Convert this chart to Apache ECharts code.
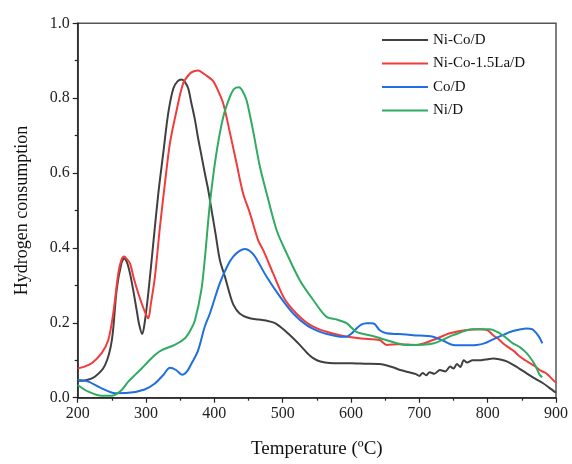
<!DOCTYPE html>
<html>
<head>
<meta charset="utf-8">
<script src="https://cdn.jsdelivr.net/npm/echarts@6/dist/echarts.min.js"></script>
<style>html,body{margin:0;padding:0;background:#fff;}#c{width:572px;height:464px;}</style>
</head>
<body>
<div id="c"></div>
<script>
const seriesNames = ['Ni-Co/D', 'Ni-Co-1.5La/D', 'Co/D', 'Ni/D'];
const xTicks = [200, 300, 400, 500, 600, 700, 800, 900];
const yTicks = [0.0, 0.2, 0.4, 0.6, 0.8, 1.0];

const niCoT = [200,210,225,240,250,257,264,268,272,276.5,281,286.3,290,294.5,298,303.3,310.6,318,325.2,332.5,339.9,346,352,357,361.8,366,371.6,376,381.4,386,391,396,402,408,416,422,428,437,452,465,476,488,496,510,525,540,550,562,575,600,620,642,660,672,685,695,700,705,710,715,722,730,738,745,750,755,760,765,770,778,790,800,808,818,828,840,857,870,880,890,900];
const niCoY = [0.045,0.046,0.056,0.087,0.154,0.288,0.359,0.372,0.362,0.332,0.29,0.234,0.195,0.17,0.2,0.279,0.412,0.546,0.653,0.76,0.826,0.845,0.85,0.843,0.826,0.79,0.742,0.695,0.644,0.60,0.555,0.50,0.435,0.368,0.32,0.28,0.248,0.225,0.212,0.209,0.206,0.2,0.19,0.168,0.141,0.112,0.1,0.094,0.092,0.092,0.091,0.09,0.082,0.074,0.068,0.063,0.058,0.066,0.06,0.068,0.064,0.074,0.07,0.083,0.078,0.09,0.082,0.1,0.094,0.1,0.1,0.103,0.105,0.102,0.097,0.085,0.065,0.05,0.04,0.027,0.013];

const niCoLaT = [200,210,220.5,235,244.8,252,259.4,264,268,272,276.5,282,288.6,295,300,303.3,307,313,320.4,327.7,335,344.8,354.5,364.3,370,376.5,384,391,398,405,413,423,432,442,452,464,471.5,486,500.8,510,520,532,544.6,564,588.6,615,642,652,670,696,720,744.6,769,788.5,800,808,815,822.6,830,838,847,855,862,869,876,885,890,895.8,900];
const niCoLaY = [0.078,0.083,0.092,0.119,0.154,0.225,0.332,0.368,0.377,0.37,0.359,0.32,0.279,0.245,0.222,0.212,0.25,0.323,0.457,0.573,0.68,0.768,0.84,0.866,0.872,0.874,0.866,0.857,0.846,0.822,0.786,0.706,0.63,0.546,0.493,0.421,0.394,0.332,0.270,0.245,0.225,0.205,0.19,0.176,0.165,0.158,0.154,0.141,0.143,0.141,0.154,0.172,0.181,0.183,0.18,0.167,0.158,0.145,0.135,0.125,0.11,0.1,0.092,0.084,0.074,0.066,0.058,0.047,0.04];

const coT = [200,215.5,235,254.6,274,298,313,325,335,344,353,360,366.8,376,386,393.5,408,420,427.6,437,444.7,452,459.4,476.5,496,515.4,535,554.5,570,583.7,593.5,600,608,615,622.8,630,635,642,652,670,691,720,735,749.5,765,783.7,795,808,822,837,857,865,871.5,876,880];
const coY = [0.047,0.043,0.025,0.012,0.013,0.022,0.038,0.06,0.08,0.074,0.061,0.07,0.092,0.125,0.19,0.225,0.306,0.355,0.377,0.392,0.397,0.392,0.377,0.323,0.27,0.225,0.194,0.176,0.168,0.163,0.163,0.17,0.185,0.195,0.199,0.199,0.196,0.18,0.172,0.17,0.167,0.163,0.152,0.141,0.14,0.141,0.145,0.156,0.167,0.178,0.185,0.183,0.172,0.16,0.145];

const niT = [200,215.5,235,249.7,264,274,285,293.6,303,313,323,342,357,365,371.6,381,386,393.5,403,413,422.8,429,436,441,447,452,457,466.7,476.5,491,505.7,525,544.7,564,579,593.5,608,632,650,681,720,749.5,778.7,803,817.8,827,837,847,857,865,870,876,880];
const niY = [0.034,0.016,0.005,0.005,0.02,0.043,0.063,0.078,0.096,0.114,0.127,0.141,0.159,0.18,0.207,0.288,0.37,0.519,0.653,0.75,0.804,0.825,0.829,0.82,0.795,0.755,0.71,0.617,0.546,0.448,0.386,0.314,0.261,0.216,0.209,0.199,0.176,0.165,0.155,0.141,0.145,0.167,0.183,0.183,0.172,0.16,0.145,0.135,0.119,0.1,0.085,0.061,0.055];

function pairs(t, y) { return t.map((v, i) => [v, y[i]]); }

const colors = ['#404040', '#f23b3b', '#1e6fe0', '#2fab62'];
const dataSets = [pairs(niCoT, niCoY), pairs(niCoLaT, niCoLaY), pairs(coT, coY), pairs(niT, niY)];

const FONT = '"Liberation Serif", "Times New Roman", serif';
const chart = echarts.init(document.getElementById('c'));
chart.setOption({
  animation: false,
  backgroundColor: '#fff',
  color: colors,
  grid: { left: 77.7, right: 16, top: 23.3, bottom: 66.3, show: true, borderColor: '#555', borderWidth: 1.5 },
  legend: {
    data: seriesNames.map(n => ({ name: n, icon: 'rect' })),
    orient: 'vertical',
    left: 377, top: 27,
    itemWidth: 46, itemHeight: 2, itemGap: 7.5,
    textStyle: { fontFamily: FONT, fontSize: 15, color: '#111', lineHeight: 16 }
  },
  xAxis: {
    type: 'value', min: 200, max: 900, interval: 100,
    name: 'Temperature (ºC)',
    nameLocation: 'middle', nameGap: 42,
    nameTextStyle: { fontFamily: FONT, fontSize: 19, color: '#111' },
    axisLine: { lineStyle: { color: '#222', width: 1.5 } },
    axisTick: { show: true, inside: false, length: 5, lineStyle: { color: '#222', width: 1.2 } },
    minorTick: { show: true, splitNumber: 2, length: 3, lineStyle: { color: '#222', width: 1.2 } },
    axisLabel: { fontFamily: FONT, fontSize: 16, color: '#222', margin: 8 },
    splitLine: { show: false }
  },
  yAxis: {
    type: 'value', min: 0, max: 1.0, interval: 0.2,
    name: 'Hydrogen consumption',
    nameLocation: 'middle', nameGap: 46,
    nameTextStyle: { fontFamily: FONT, fontSize: 18, color: '#111' },
    axisLine: { show: true, lineStyle: { color: '#222', width: 1.5 } },
    axisTick: { show: true, inside: false, length: 5, lineStyle: { color: '#222', width: 1.2 } },
    minorTick: { show: true, splitNumber: 2, length: 3, lineStyle: { color: '#222', width: 1.2 } },
    axisLabel: { fontFamily: FONT, fontSize: 16, color: '#222', margin: 8, formatter: v => v.toFixed(1) },
    splitLine: { show: false }
  },
  series: seriesNames.map((n, i) => ({
    name: n, type: 'line', data: dataSets[i], symbol: 'none', smooth: 0.3,
    lineStyle: { width: 2, color: colors[i] }, itemStyle: { color: colors[i] }
  }))
});
</script>
</body>
</html>
